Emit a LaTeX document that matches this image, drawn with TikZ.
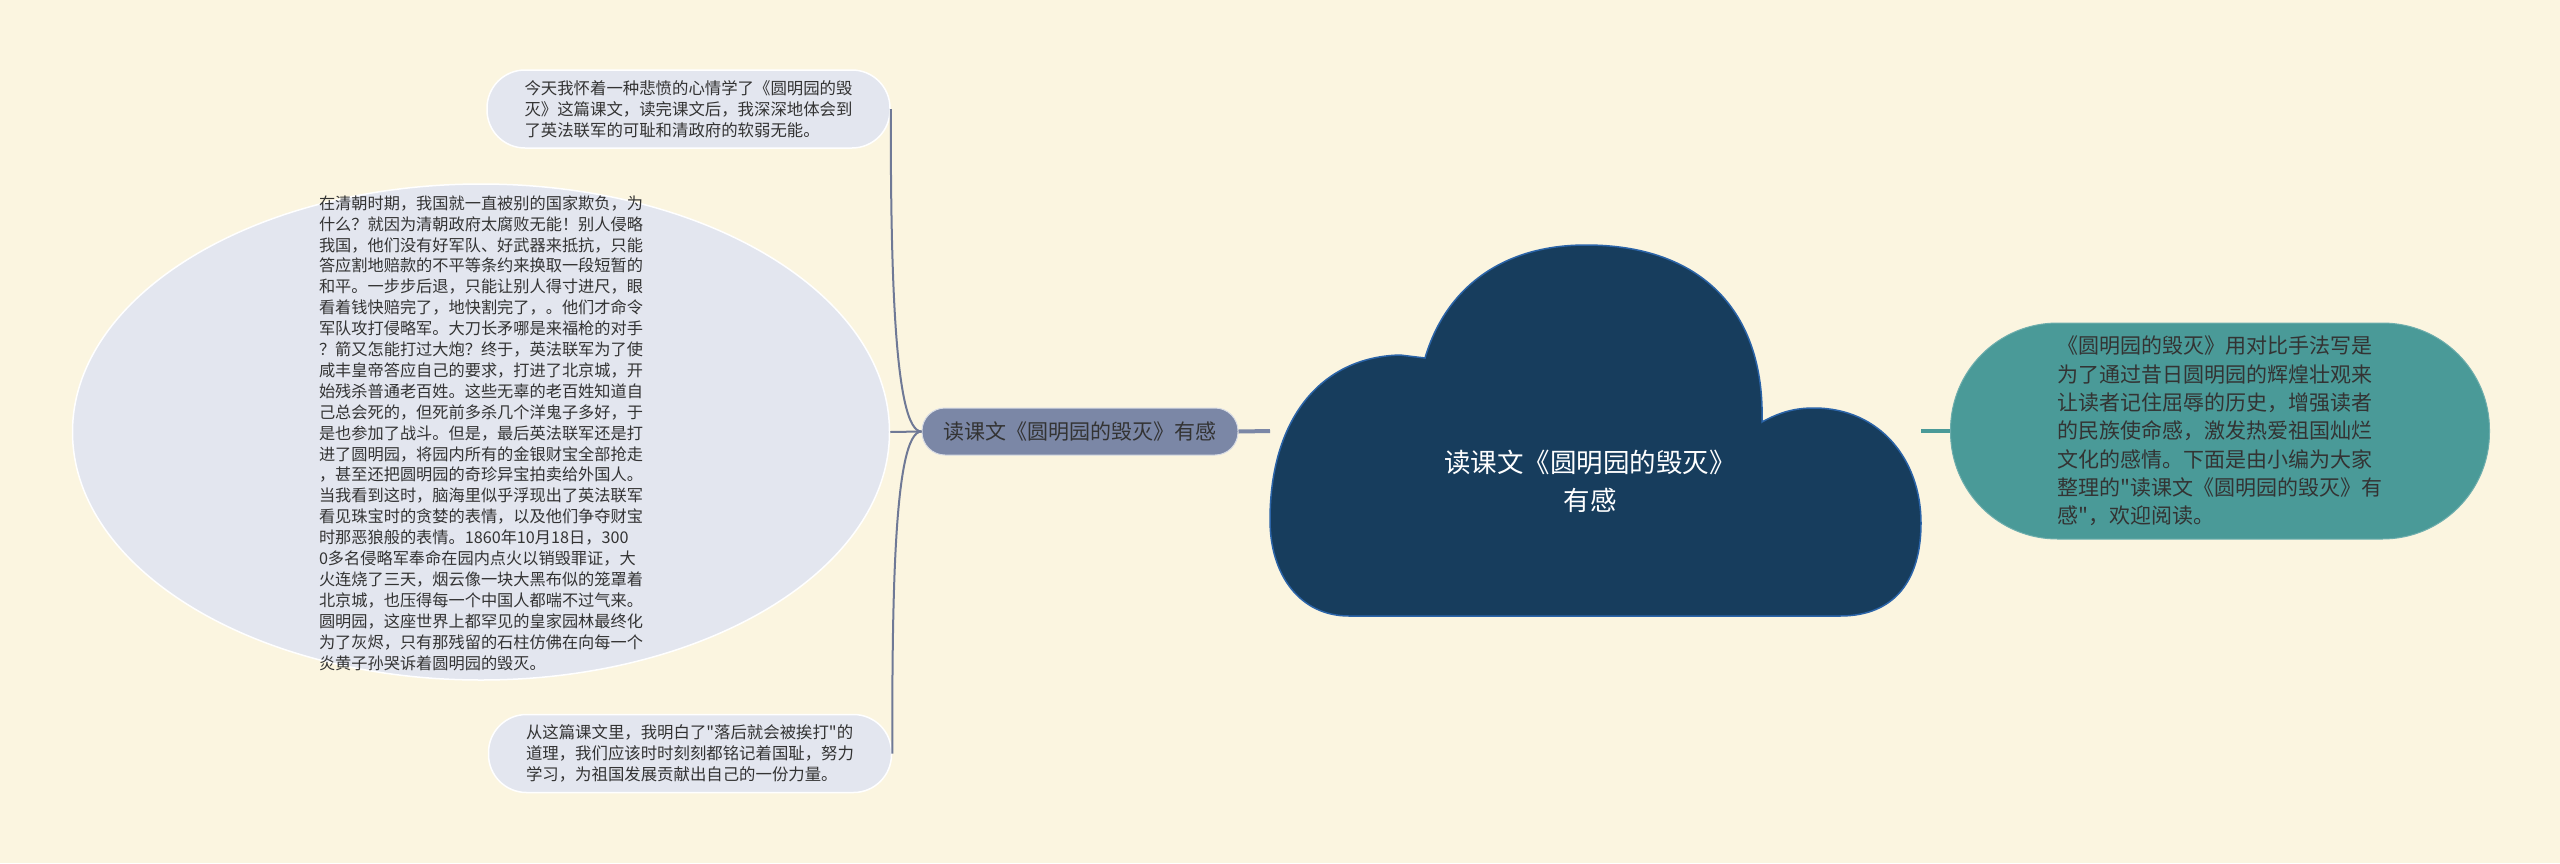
\documentclass[tikz,border=0pt]{standalone}
\usepackage{fontspec}
\setmainfont{Noto Sans CJK SC}[Ligatures=TeXOff]
\usetikzlibrary{shapes.geometric}
\definecolor{bg}{HTML}{FBF5E0}
\definecolor{leaffill}{HTML}{E3E6EF}
\definecolor{midfill}{HTML}{7B87A6}
\definecolor{midline}{HTML}{6F7996}
\definecolor{cloudfill}{HTML}{173D5D}
\definecolor{cloudedge}{HTML}{2B64A8}
\definecolor{tealfill}{HTML}{4A9A98}
\definecolor{textc}{HTML}{333333}
\tikzset{
  leaf/.style={rectangle, rounded corners=38pt, fill=leaffill, draw=white, line width=1.5pt,
    minimum width=403pt, minimum height=78pt, inner sep=0pt, align=left, text=textc,
    font=\fontsize{16.4}{20.9}\selectfont},
  bigtxt/.style={align=left, text=textc, inner sep=0pt, font=\fontsize{16.2}{20.9}\selectfont},
  midbox/.style={rectangle, rounded corners=23pt, fill=midfill, draw=white!70!midfill, line width=1pt,
    minimum width=316pt, minimum height=47pt, inner sep=0pt, text=textc,
    font=\fontsize{21}{25}\selectfont},
  tealbox/.style={rectangle, rounded corners=107pt, fill=tealfill, draw=white!20!tealfill, line width=1pt,
    minimum width=539pt, minimum height=216pt, inner sep=0pt, align=left, text=textc,
    font=\fontsize{21}{28.3}\selectfont},
  thinline/.style={draw=midline, line width=2pt},
  thickline/.style={draw=midfill, line width=4pt},
}
\begin{document}
\begin{tikzpicture}[x=1pt,y=-1pt]
\fill[bg] (0,0) rectangle (2560,863);
\useasboundingbox (0,0) rectangle (2560,863);

% cloud
\fill[cloudfill, draw=cloudedge, line width=1.5pt]
  (1349,616) .. controls (1300,616) and (1270,575) .. (1270,520)
  .. controls (1270,420) and (1320,357) .. (1400,355)
  -- (1425,358)
  .. controls (1445,290) and (1500,245) .. (1586,245)
  .. controls (1700,245) and (1765,310) .. (1762,422)
  .. controls (1780,412) and (1795,408) .. (1814,408)
  .. controls (1880,408) and (1921,460) .. (1921,523)
  .. controls (1921,580) and (1895,616) .. (1840,616)
  -- cycle;
\node[text=white, align=center, inner sep=0pt, font=\fontsize{26.5}{38}\selectfont] (root) at (1590,481)
  {读课文《圆明园的毁灭》\\有感};
\coordinate (cl) at (1270,431);
\coordinate (cr) at (1921,431);

% middle node
\node[midbox] (mid) at (1080,431.5) {读课文《圆明园的毁灭》有感};

% right node
\node[tealbox] (right) at (2220,431) {《圆明园的毁灭》用对比手法写是\\为了通过昔日圆明园的辉煌壮观来\\让读者记住屈辱的历史，增强读者\\的民族使命感，激发热爱祖国灿烂\\文化的感情。下面是由小编为大家\\整理的"读课文《圆明园的毁灭》有\\感"，欢迎阅读。};

% left leaves
\node[leaf] (top) at (688.5,109) {今天我怀着一种悲愤的心情学了《圆明园的毁\\灭》这篇课文，读完课文后，我深深地体会到\\了英法联军的可耻和清政府的软弱无能。};
\node[leaf] (bot) at (690,753.5) {从这篇课文里，我明白了"落后就会被挨打"的\\道理，我们应该时时刻刻都铭记着国耻，努力\\学习，为祖国发展贡献出自己的一份力量。};

\node[ellipse, fill=leaffill, draw=white, line width=1.5pt, minimum width=817pt, minimum height=496pt, inner sep=0pt] (big) at (481,432) {};
\node[bigtxt] (bigtext) at (481,433) {在清朝时期，我国就一直被别的国家欺负，为\\
什么？就因为清朝政府太腐败无能！别人侵略\\
我国，他们没有好军队、好武器来抵抗，只能\\
答应割地赔款的不平等条约来换取一段短暂的\\
和平。一步步后退，只能让别人得寸进尺，眼\\
看着钱快赔完了，地快割完了，。他们才命令\\
军队攻打侵略军。大刀长矛哪是来福枪的对手\\
？箭又怎能打过大炮？终于，英法联军为了使\\
咸丰皇帝答应自己的要求，打进了北京城，开\\
始残杀普通老百姓。这些无辜的老百姓知道自\\
己总会死的，但死前多杀几个洋鬼子多好，于\\
是也参加了战斗。但是，最后英法联军还是打\\
进了圆明园，将园内所有的金银财宝全部抢走\\
，甚至还把圆明园的奇珍异宝拍卖给外国人。\\
当我看到这时，脑海里似乎浮现出了英法联军\\
看见珠宝时的贪婪的表情，以及他们争夺财宝\\
时那恶狼般的表情。1860年10月18日，300\\
0多名侵略军奉命在园内点火以销毁罪证，大\\
火连烧了三天，烟云像一块大黑布似的笼罩着\\
北京城，也压得每一个中国人都喘不过气来。\\
圆明园，这座世界上都罕见的皇家园林最终化\\
为了灰烬，只有那残留的石柱仿佛在向每一个\\
炎黄子孙哭诉着圆明园的毁灭。};

% connectors
\draw[thickline] (mid.east) -- (cl);
\draw[draw=tealfill, line width=4pt] (cr) -- (right.west);
\draw[thinline] (mid.west) -- (big.east);
\draw[thinline] (mid.west) .. controls +(-28,0) and +(0,150) .. (top.east);
\draw[thinline] (mid.west) .. controls +(-28,0) and +(0,-150) .. (bot.east);
\end{tikzpicture}
\end{document}
